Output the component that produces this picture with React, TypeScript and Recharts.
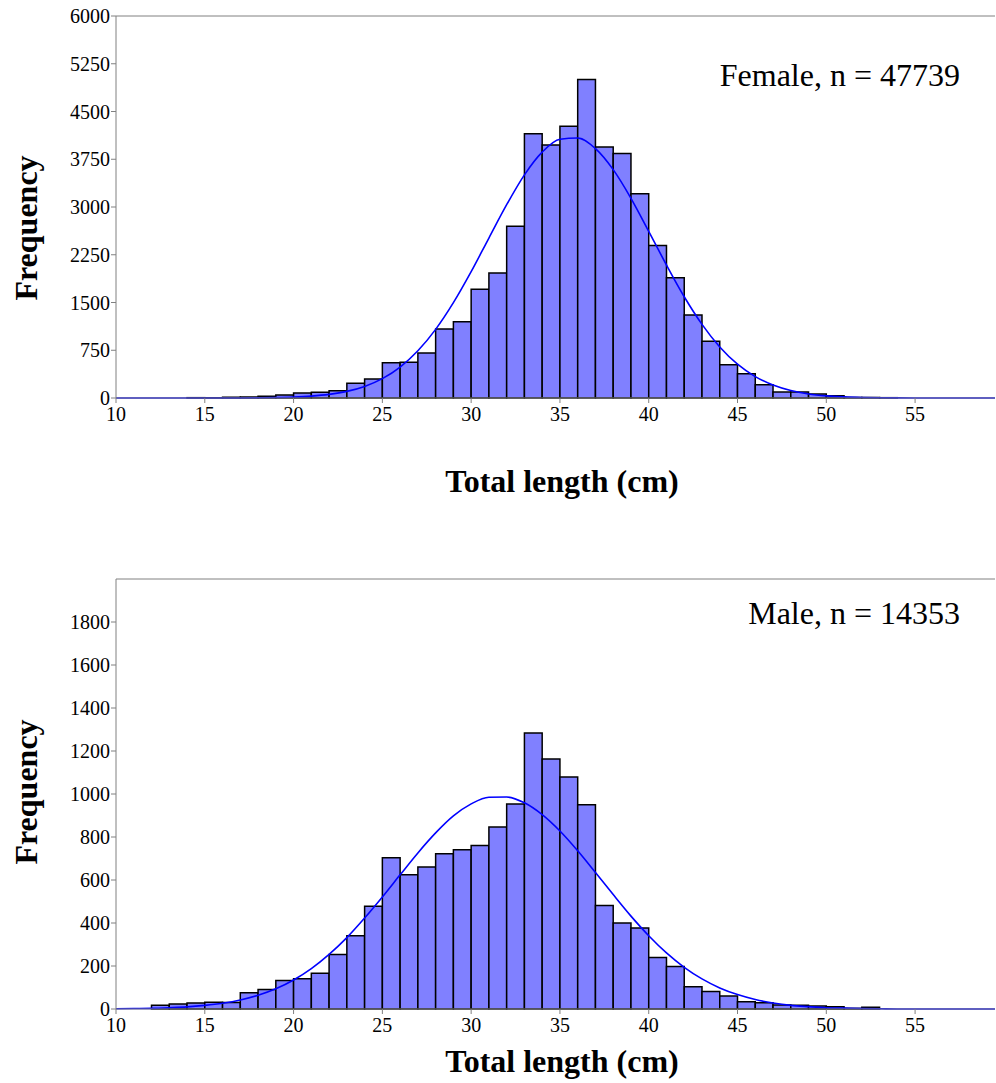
import React from 'react';
import { ComposedChart, Bar, Line, XAxis, YAxis, ReferenceLine } from 'recharts';

// 1 cm length classes, left edge of each bin
const binStarts = [
  10, 11, 12, 13, 14, 15, 16, 17, 18, 19, 20, 21, 22, 23, 24, 25, 26, 27, 28, 29,
  30, 31, 32, 33, 34, 35, 36, 37, 38, 39, 40, 41, 42, 43, 44, 45, 46, 47, 48, 49,
  50, 51, 52, 53, 54, 55, 56, 57, 58,
];

const femaleCounts = [
  0, 0, 0, 0, 5, 4, 12, 15, 26, 47, 78, 89, 115, 230, 298, 555, 560, 707, 1084, 1199,
  1707, 1963, 2697, 4152, 3974, 4270, 5004, 3941, 3841, 3208, 2397, 1889, 1303, 890, 523, 382, 209, 94, 96, 63,
  37, 8, 8, 5, 0, 0, 0, 0, 0,
];

const maleCounts = [
  0, 0, 17, 23, 28, 31, 30, 76, 91, 132, 141, 166, 254, 341, 478, 704, 625, 660, 722, 741,
  760, 847, 954, 1284, 1163, 1079, 950, 481, 400, 377, 239, 198, 104, 81, 60, 34, 29, 19, 17, 14,
  10, 3, 8, 0, 0, 0, 0, 0, 0,
];

// fitted normal curves, read at each cm
const curveX = [
  10, 11, 12, 13, 14, 15, 16, 17, 18, 19, 20, 21, 22, 23, 24, 25, 26, 27, 28, 29,
  30, 31, 32, 33, 34, 35, 36, 37, 38, 39, 40, 41, 42, 43, 44, 45, 46, 47, 48, 49,
  50, 51, 52, 53, 54, 55, 56, 57, 58, 59, 59.5,
];

const femaleCurve = [
  0, 0, 0, 0, 0, 0, 0, 1, 3, 7, 15, 30, 57, 104, 182, 304, 486, 741, 1078, 1497,
  1984, 2513, 3036, 3505, 3862, 4064, 4083, 3917, 3587, 3137, 2618, 2089, 1590, 1156, 802, 531, 336, 203, 117, 64,
  34, 17, 8, 4, 2, 1, 0, 0, 0, 0, 0,
];

const maleCurve = [
  1, 2, 3, 6, 10, 17, 27, 42, 64, 94, 135, 188, 254, 332, 423, 521, 624, 726, 819, 898,
  954, 985, 986, 959, 904, 828, 736, 635, 532, 432, 341, 261, 194, 140, 98, 67, 44, 28, 17, 11,
  6, 4, 2, 1, 0, 0, 0, 0, 0, 0, 0,
];

const xTicks = [10, 15, 20, 25, 30, 35, 40, 45, 50, 55];
const femaleYTicks = [0, 750, 1500, 2250, 3000, 3750, 4500, 5250, 6000];
const maleYTicks = [0, 200, 400, 600, 800, 1000, 1200, 1400, 1600, 1800];

const SERIF = '"Liberation Serif", "Times New Roman", serif';
const AXIS_GREY = '#808080';
const BAR_FILL = '#8080ff';
const CURVE = '#0000ff';

const tickStyle = { fontFamily: SERIF, fontSize: 20, fill: '#000' };

interface PanelProps {
  counts: number[];
  curve: number[];
  yMax: number;
  yTicks: number[];
  plotTop: number;
  plotHeight: number;
}

function HistPanel({ counts, curve, yMax, yTicks, plotTop, plotHeight }: PanelProps) {
  const bars = binStarts.map((s, i) => ({ mid: s + 0.5, count: counts[i] }));
  const fit = curveX.map((x, i) => ({ x, value: curve[i] }));

  return (
    <ComposedChart
      width={996}
      height={plotTop + plotHeight + 30}
      data={bars}
      margin={{ top: plotTop, right: 1, bottom: 0, left: 0 }}
    >
      <XAxis
        xAxisId="fit"
        dataKey="x"
        type="number"
        domain={[10, 59.5]}
        ticks={xTicks}
        interval={0}
        allowDataOverflow
        height={30}
        tick={tickStyle}
        tickSize={5}
        tickMargin={4}
        axisLine={{ stroke: AXIS_GREY }}
        tickLine={{ stroke: AXIS_GREY }}
      />
      <XAxis xAxisId="bar" dataKey="mid" type="number" domain={[10, 59.5]} height={0} hide allowDataOverflow />
      <YAxis
        type="number"
        domain={[0, yMax]}
        ticks={yTicks}
        interval={0}
        width={116}
        tick={tickStyle}
        tickSize={5}
        tickMargin={1}
        axisLine={{ stroke: AXIS_GREY }}
        tickLine={{ stroke: AXIS_GREY }}
      />
      <ReferenceLine xAxisId="fit" y={yMax} stroke={AXIS_GREY} />
      <Bar
        xAxisId="bar"
        dataKey="count"
        fill={BAR_FILL}
        stroke="#000"
        strokeWidth={1.5}
        barSize={17.75}
        isAnimationActive={false}
      />
      <Line
        xAxisId="fit"
        data={fit}
        dataKey="value"
        type="monotone"
        stroke={CURVE}
        strokeWidth={1.6}
        dot={false}
        activeDot={false}
        isAnimationActive={false}
      />
    </ComposedChart>
  );
}

const yTitle: React.CSSProperties = {
  position: 'absolute',
  left: 26,
  fontFamily: SERIF,
  fontWeight: 'bold',
  fontSize: 32,
  lineHeight: '32px',
  whiteSpace: 'nowrap',
  transform: 'translate(-50%, -50%) rotate(-90deg)',
};

const xTitle: React.CSSProperties = {
  position: 'absolute',
  left: 562,
  fontFamily: SERIF,
  fontWeight: 'bold',
  fontSize: 32,
  lineHeight: '32px',
  whiteSpace: 'nowrap',
  transform: 'translateX(-50%)',
};

const note: React.CSSProperties = {
  position: 'absolute',
  right: 36,
  fontFamily: SERIF,
  fontSize: 32,
  lineHeight: '32px',
  whiteSpace: 'nowrap',
};

export default function App() {
  return (
    <div style={{ position: 'absolute', left: 0, top: 0, width: 996, height: 1083, background: '#fff' }}>
      <div style={{ position: 'absolute', left: 0, top: 0 }}>
        <HistPanel counts={femaleCounts} curve={femaleCurve} yMax={6000} yTicks={femaleYTicks} plotTop={16} plotHeight={382} />
      </div>
      <div style={{ ...yTitle, top: 228 }}>Frequency</div>
      <div style={{ ...xTitle, top: 465 }}>Total length (cm)</div>
      <div style={{ ...note, top: 59 }}>Female, n = 47739</div>

      <div style={{ position: 'absolute', left: 0, top: 559 }}>
        <HistPanel counts={maleCounts} curve={maleCurve} yMax={2000} yTicks={maleYTicks} plotTop={20} plotHeight={430} />
      </div>
      <div style={{ ...yTitle, top: 792 }}>Frequency</div>
      <div style={{ ...xTitle, top: 1045 }}>Total length (cm)</div>
      <div style={{ ...note, top: 597 }}>Male, n = 14353</div>
    </div>
  );
}
